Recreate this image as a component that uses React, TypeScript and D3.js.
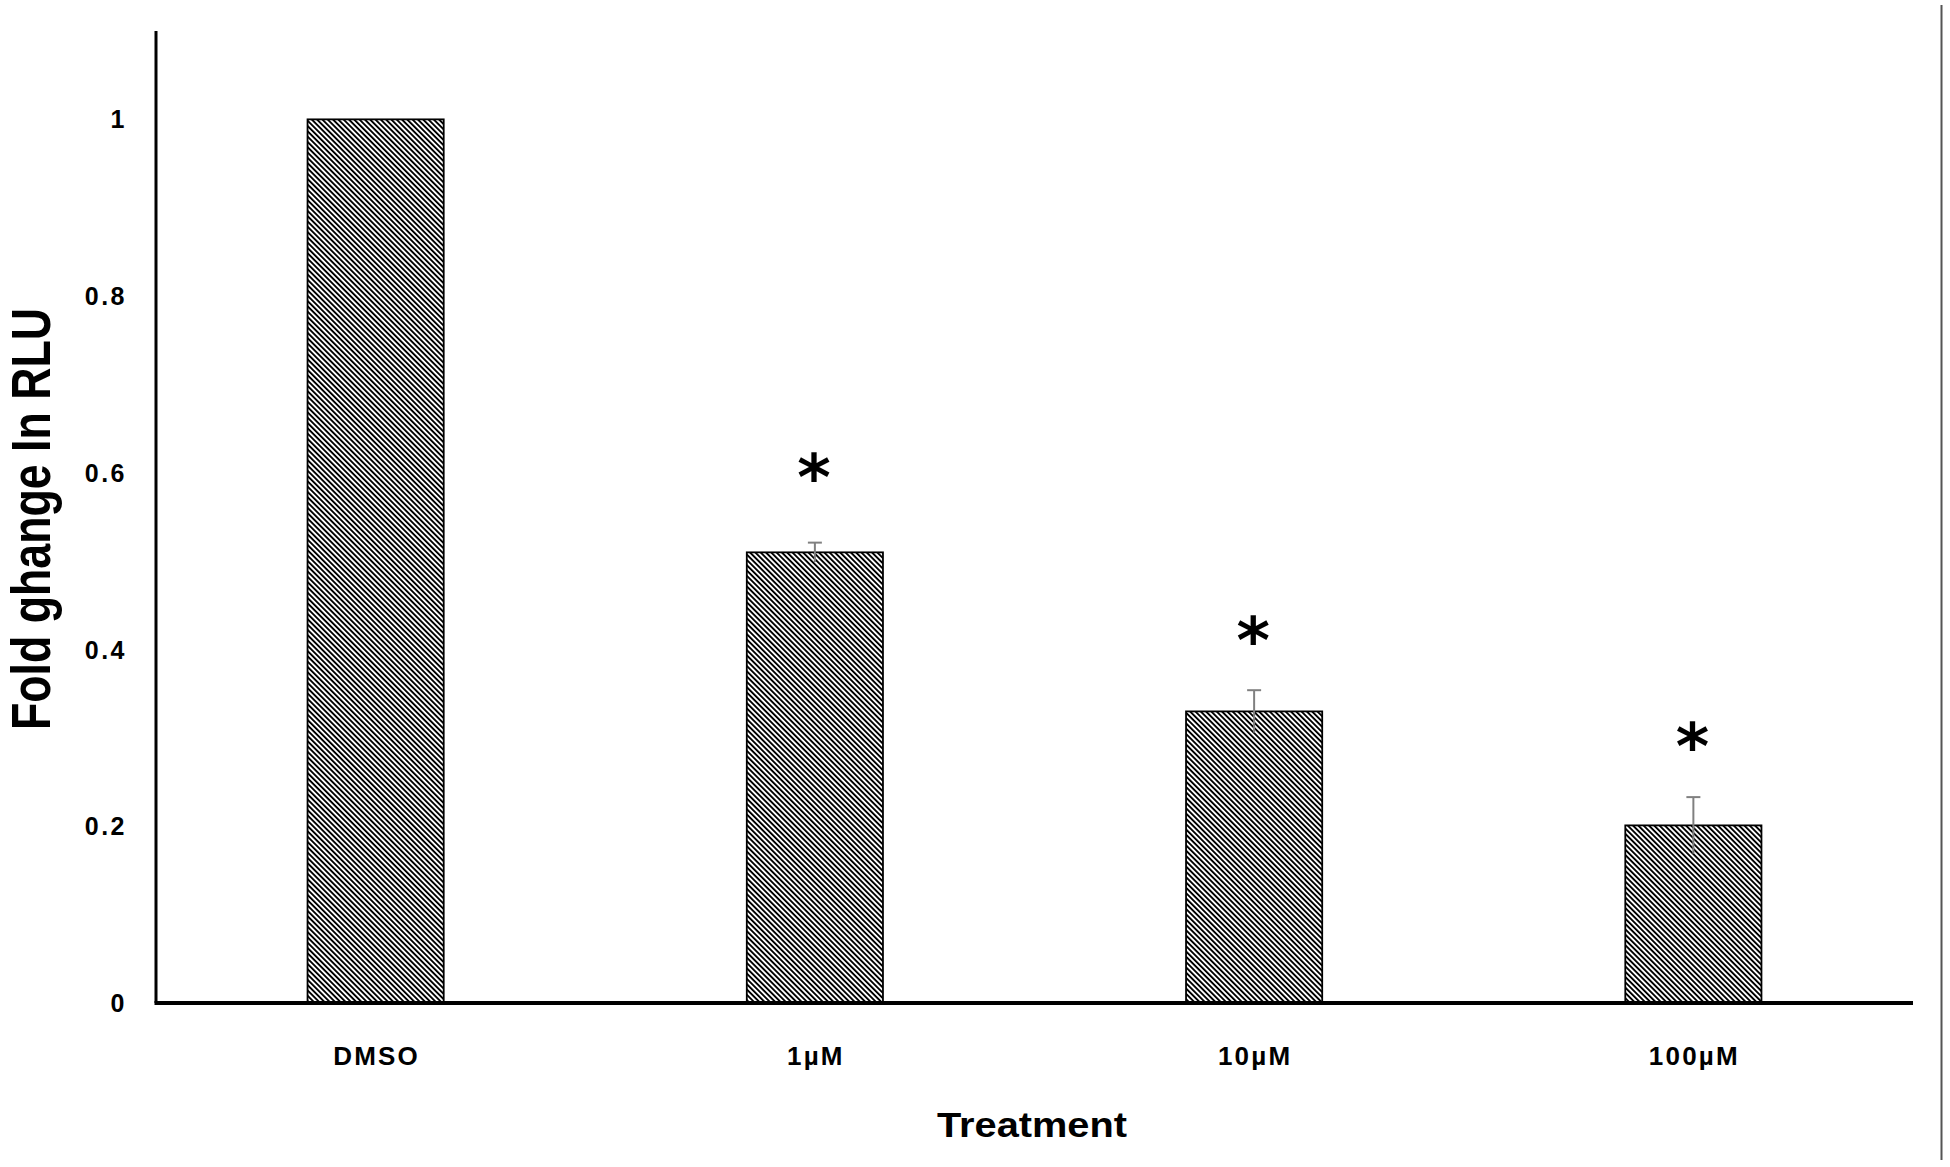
import * as d3 from "d3"
import React from "react"

const categories = ["DMSO", "1µM", "10µM", "100µM"]
const values = [1.0, 0.51, 0.33, 0.201]
const errors = [0, 0.011, 0.024, 0.032]
// where the significance asterisk sits, in y units (null = none)
const starAt = [null, 0.605, 0.4215, 0.301]
const yTicks = [0, 0.2, 0.4, 0.6, 0.8, 1]

const width = 1950
const height = 1167
const marginLeft = 156
const marginRight = 37
const marginTop = 31
const marginBottom = 164

const drawChart = (el: SVGSVGElement) => {
  const svg = d3.select(el)
  svg.selectAll("*").remove()

  const x = d3.scaleBand(categories, [marginLeft, width - marginRight])
    .paddingInner(0.69)
    .paddingOuter(0.345)
  const y = d3.scaleLinear([0, 1.1], [height - marginBottom, marginTop])

  // hatch pattern, lines running top-left to bottom-right
  const defs = svg.append("defs")
  defs.append("pattern")
    .attr("id", "hatch")
    .attr("patternUnits", "userSpaceOnUse")
    .attr("width", 3.75)
    .attr("height", 10)
    .attr("patternTransform", "rotate(-45)")
    .append("rect")
    .attr("width", 1.9)
    .attr("height", 10)
    .attr("fill", "#000")

  const font = "'Liberation Sans', Arial, sans-serif"

  // y tick labels (no tick marks)
  svg.append("g")
    .selectAll("text")
    .data(yTicks)
    .join("text")
    .attr("x", 127)
    .attr("y", (d: any) => y(d) + 9)
    .attr("text-anchor", "end")
    .attr("font-family", font)
    .attr("font-weight", "bold")
    .attr("font-size", 25)
    .attr("letter-spacing", 2.5)
    .text((d: any) => d3.format("~g")(d))

  // bars
  svg.append("g")
    .selectAll("rect")
    .data(values)
    .join("rect")
    .attr("x", (d: any, i: number) => x(categories[i]))
    .attr("y", (d: any) => y(d))
    .attr("width", x.bandwidth())
    .attr("height", (d: any) => y(0) - y(d))
    .attr("fill", "url(#hatch)")
    .attr("stroke", "#000")
    .attr("stroke-width", 1.8)

  // error bars
  const eb = svg.append("g")
    .attr("stroke", "#808080")
    .attr("stroke-width", 2)
  categories.forEach((c, i) => {
    if (!errors[i]) return
    const cx = x(c)! + x.bandwidth() / 2
    eb.append("line")
      .attr("x1", cx).attr("x2", cx)
      .attr("y1", y(values[i] - errors[i]))
      .attr("y2", y(values[i] + errors[i]))
    eb.append("line")
      .attr("x1", cx - 7).attr("x2", cx + 7)
      .attr("y1", y(values[i] + errors[i]))
      .attr("y2", y(values[i] + errors[i]))
  })

  // asterisks
  const starSize = 64
  svg.append("g")
    .selectAll("text")
    .data(categories.map((c, i) => ({ c, v: starAt[i] })).filter((d) => d.v !== null))
    .join("text")
    .attr("x", (d: any) => x(d.c)! + x.bandwidth() / 2 - 1)
    .attr("y", (d: any) => y(d.v) + starSize * 0.5)
    .attr("text-anchor", "middle")
    .attr("font-family", "'DejaVu Sans', sans-serif")
    .attr("font-weight", "bold")
    .attr("font-size", starSize)
    .text("*")

  // axes
  svg.append("line")
    .attr("x1", marginLeft).attr("x2", marginLeft)
    .attr("y1", marginTop).attr("y2", y(0))
    .attr("stroke", "#000")
    .attr("stroke-width", 3)
  svg.append("line")
    .attr("x1", marginLeft - 1.5).attr("x2", width - marginRight)
    .attr("y1", y(0)).attr("y2", y(0))
    .attr("stroke", "#000")
    .attr("stroke-width", 4)

  // frame edge on the right
  svg.append("line")
    .attr("x1", 1941.5).attr("x2", 1941.5)
    .attr("y1", 5).attr("y2", 1160)
    .attr("stroke", "#555")
    .attr("stroke-width", 2)

  // category labels
  svg.append("g")
    .selectAll("text")
    .data(categories)
    .join("text")
    .attr("x", (d: any) => x(d)! + x.bandwidth() / 2 + 1)
    .attr("y", 1065)
    .attr("text-anchor", "middle")
    .attr("font-family", font)
    .attr("font-weight", "bold")
    .attr("font-size", 26)
    .attr("letter-spacing", 2.2)
    .text((d: any) => d)

  // axis titles
  svg.append("text")
    .attr("x", 1032)
    .attr("y", 1137)
    .attr("text-anchor", "middle")
    .attr("font-family", font)
    .attr("font-weight", "bold")
    .attr("font-size", 35)
    .attr("textLength", 190)
    .attr("lengthAdjust", "spacingAndGlyphs")
    .text("Treatment")

  svg.append("text")
    .attr("transform", "translate(50,519) rotate(-90)")
    .attr("text-anchor", "middle")
    .attr("font-family", font)
    .attr("font-weight", "bold")
    .attr("font-size", 56)
    .attr("textLength", 422)
    .attr("lengthAdjust", "spacingAndGlyphs")
    .text("Fold ghange In RLU")
}

const App = () => {
  const ref = React.useRef<SVGSVGElement>(null)
  React.useEffect(() => {
    if (ref.current) drawChart(ref.current)
  }, [])

  return (
    <div style={{ position: "absolute", left: 0, top: 0 }}>
      <svg ref={ref} width={width} height={height} viewBox={`0 0 ${width} ${height}`} style={{ display: "block", background: "#fff" }} />
    </div>
  )
}

export default App
